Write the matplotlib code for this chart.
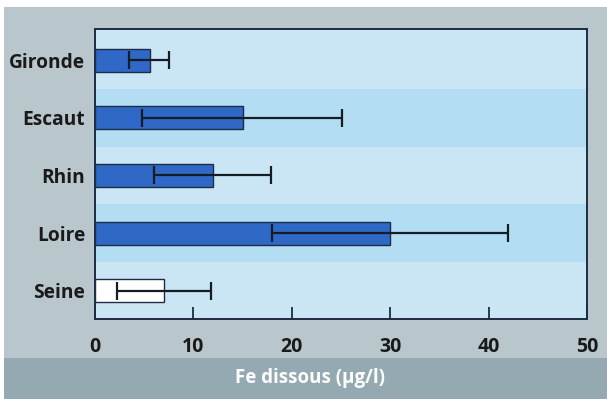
import matplotlib
matplotlib.use("Agg")
import matplotlib.pyplot as plt
from matplotlib.patches import Rectangle

# data (bottom to top)
rivers = ["Seine", "Loire", "Rhin", "Escaut", "Gironde"]
fe_mean = [7.0, 30.0, 12.0, 15.0, 5.6]
fe_low = [2.2, 18.0, 6.0, 4.8, 3.5]
fe_high = [11.8, 42.0, 17.9, 25.1, 7.5]
bar_colors = ["white", "#3068c8", "#3068c8", "#3068c8", "#3068c8"]

plt.rcParams["font.family"] = ["Open Sans", "DejaVu Sans"]

fig = plt.figure(figsize=(6.07, 3.99), dpi=100)
fig.patch.set_facecolor("white")
W, H = 607, 399
# grey frame and darker bottom strip
fig.patches.append(Rectangle((4 / W, 41 / H), 1, (392 - 41) / H, transform=fig.transFigure,
                             facecolor="#b9c7cd", edgecolor="none", zorder=-10))
fig.patches.append(Rectangle((4 / W, 0), 1, 41 / H, transform=fig.transFigure,
                             facecolor="#94a9b1", edgecolor="none", zorder=-10))

ax = fig.add_axes([95 / W, 80 / H, 492 / W, 290 / H])
ax.set_facecolor("#cae5f4")

ypos = list(range(len(rivers)))
# alternate darker bands behind Loire and Escaut
for i in ypos:
    if i % 2 == 1:
        ax.axhspan(i - 0.5, i + 0.5, color="#b2ddf2", lw=0, zorder=0)

xerr = [[m - lo for m, lo in zip(fe_mean, fe_low)],
        [hi - m for m, hi in zip(fe_mean, fe_high)]]
ax.barh(ypos, fe_mean, height=0.4, color=bar_colors, edgecolor="#1d2b45",
        linewidth=1.0, zorder=2)
ax.errorbar(fe_mean, ypos, xerr=xerr, fmt="none", ecolor="#141c24",
            elinewidth=1.6, capsize=6.5, capthick=1.6, zorder=3)

ax.set_xlim(0, 50)
ax.set_ylim(-0.49, 4.54)
ax.set_xticks([0, 10, 20, 30, 40, 50])
ax.set_yticks(ypos)
ax.set_yticklabels(rivers)
ax.tick_params(axis="x", direction="in", length=9, width=1.3, color="#1d2b45",
               pad=13, labelsize=14)
ax.tick_params(axis="y", length=0, pad=7, labelsize=13.8)
for lab in ax.get_xticklabels() + ax.get_yticklabels():
    lab.set_fontweight("bold")
    lab.set_color("#1a1a1a")
for sp in ax.spines.values():
    sp.set_color("#1d2b45")
    sp.set_linewidth(1.4)

fig.text(310 / W, 21 / H, "Fe dissous (\u00b5g/l)", color="white", fontsize=13.5,
         fontweight="bold", ha="center", va="center")

fig.savefig("out.png", dpi=100)
